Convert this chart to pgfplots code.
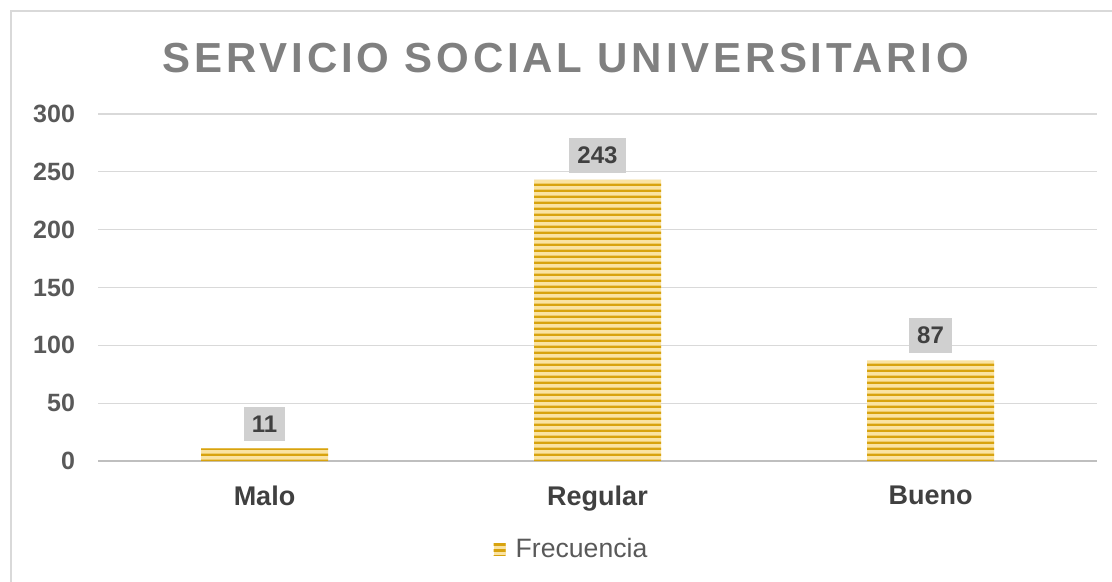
\documentclass[border=0pt]{standalone}
\usepackage{fontspec}
\setmainfont{Liberation Sans}
\usepackage{pgfplots}
\pgfplotsset{compat=1.18}
\usetikzlibrary{patterns}

\definecolor{framegray}{HTML}{D9D9D9}
\definecolor{gridgray}{HTML}{D9D9D9}
\definecolor{axisgray}{HTML}{BFBFBF}
\definecolor{titlegray}{HTML}{808080}
\definecolor{tickgray}{HTML}{595959}
\definecolor{labgray}{HTML}{404040}
\definecolor{boxgray}{HTML}{D0D0D0}
\definecolor{goldlight}{HTML}{FAE3A2}
\definecolor{golddark}{HTML}{D8A30E}

% horizontal stripes for the bars
\pgfdeclarepatternformonly{goldlines}{\pgfpointorigin}{\pgfpoint{40pt}{3pt}}{\pgfpoint{40pt}{3pt}}%
  {\pgfpathrectangle{\pgfpoint{-0.5pt}{0pt}}{\pgfpoint{41pt}{1.4pt}}\pgfusepath{fill}}

\begin{document}
\begin{tikzpicture}
% page frame (1px = 0.5pt)
\path[use as bounding box] (0,0) rectangle (556pt,-291pt);
\draw[framegray, line width=0.9pt] (5.4pt,-291pt) -- (5.4pt,-5.7pt) -- (556pt,-5.7pt);

\node[font=\bfseries\fontsize{21}{25}\selectfont\addfontfeature{LetterSpace=9}, text=titlegray]
  at (283pt,-29pt) {SERVICIO SOCIAL UNIVERSITARIO};

\begin{axis}[
    at={(49pt,-230.5pt)}, anchor=south west,
    scale only axis,
    width=499.5pt, height=173.5pt,
    xmin=-0.5, xmax=2.5,
    ymin=0, ymax=300,
    ytick={0,50,...,300},
    xtick=data,
    xticklabels={Malo,Regular,Bueno},
    axis x line*=bottom, axis y line*=left,
    x axis line style={-, draw=axisgray, line width=1pt},
    y axis line style={draw=none},
    major tick length=0pt,
    ymajorgrids,
    grid style={gridgray, line width=0.6pt},
    /pgf/number format/assume math mode=true,
    yticklabel style={font=\bfseries\fontsize{12.5}{15}\selectfont, text=tickgray, xshift=-8pt},
    xticklabel style={font=\bfseries\fontsize{13.5}{16}\selectfont, text=labgray, yshift=-9pt},
    ybar, bar width=63.5pt,
    nodes near coords,
    every node near coord/.append style={font=\bfseries\fontsize{12}{14}\selectfont,
        text=labgray, fill=boxgray, inner xsep=4pt, inner ysep=4.4pt, anchor=south, yshift=3.5pt},
    legend style={at={(0.475,-0.254)}, anchor=center, draw=none, fill=none,
        font=\fontsize{13.3}{16}\selectfont, text=tickgray,
        /tikz/every odd column/.append style={column sep=3pt},
        /tikz/every even column/.append style={column sep=5pt}},
    legend image code/.code={\path[#1] (0pt,-3pt) rectangle (6pt,3pt);},
]
\addplot[fill=goldlight, draw=none,
    postaction={pattern=goldlines, pattern color=golddark}]
  coordinates {(0,11) (1,243) (2,87)};
\addlegendentry{Frecuencia}
\end{axis}
\end{tikzpicture}
\end{document}
